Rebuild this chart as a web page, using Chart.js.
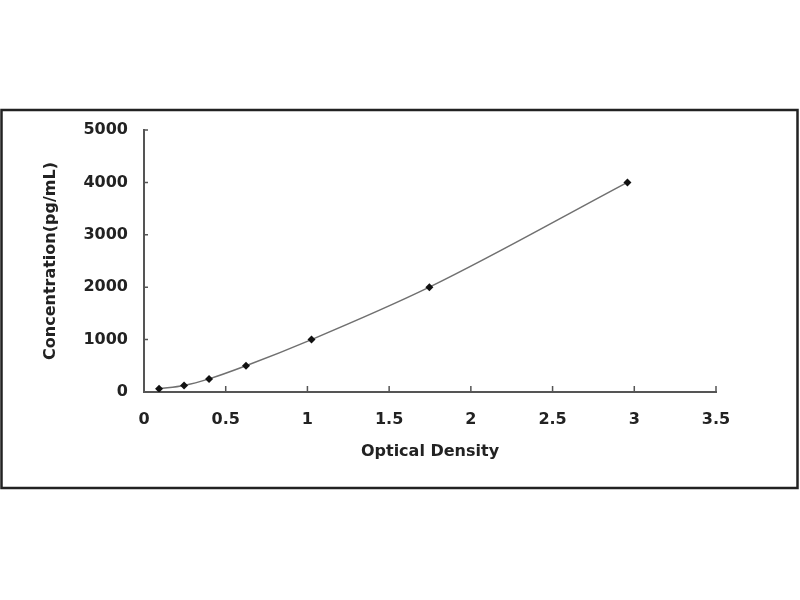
<!DOCTYPE html>
<html>
<head>
<meta charset="utf-8">
<script src="https://cdn.jsdelivr.net/npm/chart.js@4/dist/chart.umd.min.js"></script>
<style>
  html, body { margin: 0; padding: 0; background: #fff; }
  #wrap { width: 800px; height: 600px; }
</style>
</head>
<body>
<div id="wrap"><canvas id="stdCurve" width="800" height="600"></canvas></div>
<script>
// standard curve readings
const opticalDensity = [0.092, 0.245, 0.398, 0.624, 1.025, 1.746, 2.958];
const concentration = [62.5, 125, 250, 500, 1000, 2000, 4000];
const xTicks = [0, 0.5, 1, 1.5, 2, 2.5, 3, 3.5];
const yTicks = [0, 1000, 2000, 3000, 4000, 5000];

const points = opticalDensity.map(function (od, i) {
    return { x: od, y: concentration[i] };
});

const tickFont = { family: 'DejaVu Sans', size: 16, weight: 'bold' };

// white page + outer frame
const framePlugin = {
    id: 'frame',
    beforeDraw: function (chart) {
        const c = chart.ctx;
        c.save();
        c.fillStyle = '#fff';
        c.fillRect(0, 0, chart.width, chart.height);
        c.strokeStyle = '#222';
        c.lineWidth = 2.5;
        c.strokeRect(1.5, 110, 796, 378);
        c.restore();
    }
};

// short tick marks pointing into the plot, like the original
const innerTicks = {
    id: 'innerTicks',
    afterDraw: function (chart) {
        const c = chart.ctx;
        const xs = chart.scales.x;
        const ys = chart.scales.y;
        c.save();
        c.strokeStyle = '#555';
        c.lineWidth = 1.5;
        c.beginPath();
        xs.ticks.forEach(function (t) {
            const px = xs.getPixelForValue(t.value);
            c.moveTo(px, ys.bottom);
            c.lineTo(px, ys.bottom - 6);
        });
        ys.ticks.forEach(function (t) {
            const py = ys.getPixelForValue(t.value);
            c.moveTo(xs.left, py);
            c.lineTo(xs.left + 4, py);
        });
        c.stroke();
        c.restore();
    }
};

new Chart(document.getElementById('stdCurve'), {
    type: 'scatter',
    data: {
        datasets: [{
            label: 'fit',
            type: 'line',
            data: points,
            borderColor: '#707070',
            borderWidth: 1.5,
            pointRadius: 0,
            fill: false,
            cubicInterpolationMode: 'monotone',
            order: 2
        }, {
            label: 'standards',
            data: points,
            pointStyle: 'rectRot',
            pointRadius: 4,
            backgroundColor: '#111',
            borderColor: '#111',
            borderWidth: 0,
            order: 1
        }]
    },
    options: {
        responsive: false,
        animation: false,
        layout: {
            padding: { left: 38, right: 84, top: 130, bottom: 138 }
        },
        plugins: {
            legend: { display: false },
            tooltip: { enabled: false }
        },
        scales: {
            x: {
                type: 'linear',
                min: 0,
                max: 3.5,
                afterBuildTicks: function (scale) {
                    scale.ticks = xTicks.map(function (v) { return { value: v }; });
                },
                afterFit: function (scale) { scale.height = 70; },
                border: { color: '#555', width: 2 },
                grid: { display: false, drawTicks: false },
                ticks: {
                    color: '#222',
                    font: tickFont,
                    padding: 18,
                    maxRotation: 0,
                    callback: function (v) { return String(v); }
                },
                title: {
                    display: true,
                    text: 'Optical Density',
                    color: '#222',
                    font: tickFont,
                    padding: { top: 0, bottom: 1 }
                }
            },
            y: {
                type: 'linear',
                min: 0,
                max: 5000,
                afterBuildTicks: function (scale) {
                    scale.ticks = yTicks.map(function (v) { return { value: v }; });
                },
                afterFit: function (scale) { scale.width = 106; },
                border: { color: '#555', width: 2 },
                grid: { display: false, drawTicks: false },
                ticks: {
                    color: '#222',
                    font: tickFont,
                    padding: 16,
                    callback: function (v) { return String(v); }
                },
                title: {
                    display: true,
                    text: 'Concentration(pg/mL)',
                    color: '#222',
                    font: tickFont,
                    padding: { top: 3, bottom: 0 }
                }
            }
        }
    },
    plugins: [framePlugin, innerTicks]
});
</script>
</body>
</html>
